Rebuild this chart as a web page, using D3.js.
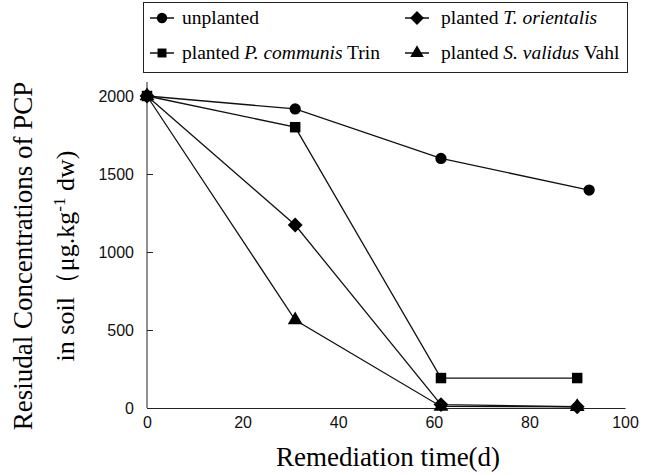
<!DOCTYPE html>
<html>
<head>
<meta charset="utf-8">
<script src="https://cdn.jsdelivr.net/npm/d3@7"></script>
<style>
  body { margin: 0; background: #fff; }
  svg { display: block; }
  .serif { font-family: 'Liberation Serif', 'DejaVu Serif', serif; }
  .sans { font-family: 'Liberation Sans', 'DejaVu Sans', sans-serif; }
</style>
</head>
<body>
<svg id="chart"></svg>
<script>
// Data (days, ug/kg dw)
const days = [0, 31, 61.5, 90];
const daysUnplanted = [0, 31, 61.5, 92.5];
const unplanted = [2000, 1917, 1600, 1397];
const communis = [2000, 1800, 192, 192];
const orientalis = [2000, 1173, 22, 8];
const validus = [2000, 564, 10, 8];

const xTicks = [0, 20, 40, 60, 80, 100];
const yTicks = [0, 500, 1000, 1500, 2000];

const width = 646;
const height = 475;
const margin = { top: 82, right: 21, bottom: 67, left: 147 };

const svg = d3.select('#chart')
    .attr('width', width)
    .attr('height', height);

// Scales
const xScale = d3.scaleLinear()
    .domain([0, 100])
    .range([margin.left, width - margin.right]);

const yScale = d3.scaleLinear()
    .domain([0, 2000])
    .range([height - margin.bottom, 96]);

// Rotated square, like the diamond in the original
const diamond = {
    draw(context, size) {
        const r = Math.sqrt(size / 2);
        context.moveTo(0, -r);
        context.lineTo(r, 0);
        context.lineTo(0, r);
        context.lineTo(-r, 0);
        context.closePath();
    }
};

// x axis: line only, no tick marks
const xAxis = svg.append('g')
    .attr('transform', `translate(0, ${yScale(0)})`)
    .call(d3.axisBottom(xScale).tickValues(xTicks).tickSize(0).tickPadding(9));
xAxis.select('.domain').attr('stroke', '#222');
xAxis.selectAll('text')
    .attr('class', 'sans')
    .attr('font-size', '16px')
    .attr('fill', '#111');

// y axis: ticks point into the plot
const yAxis = svg.append('g')
    .attr('transform', `translate(${margin.left}, 0)`)
    .call(d3.axisLeft(yScale).tickValues(yTicks).tickFormat(d3.format('d'))
        .tickSizeInner(-6).tickSizeOuter(0).tickPadding(13));
yAxis.select('.domain').remove();
yAxis.selectAll('.tick line').attr('stroke', '#222');
yAxis.selectAll('text')
    .attr('class', 'sans')
    .attr('font-size', '16px')
    .attr('fill', '#111');
// y axis line runs a bit above the top tick
svg.append('line')
    .attr('x1', margin.left).attr('x2', margin.left)
    .attr('y1', margin.top).attr('y2', yScale(0))
    .attr('stroke', '#222');

// Axis titles
svg.append('text')
    .attr('class', 'serif')
    .attr('x', 388)
    .attr('y', 466)
    .attr('text-anchor', 'middle')
    .attr('font-size', '27px')
    .text('Remediation time(d)');

const yTitle = svg.append('text')
    .attr('class', 'serif')
    .attr('transform', 'translate(32, 256) rotate(-90)')
    .attr('text-anchor', 'middle')
    .attr('font-size', '27px');
yTitle.append('tspan')
    .attr('x', 0).attr('y', 0)
    .text('Resiudal Concentrations of PCP');
yTitle.append('tspan')
    .attr('x', 0).attr('y', 42)
    .attr('font-size', '26px')
    .text('in soil（μg.kg');
yTitle.append('tspan')
    .attr('dy', -9)
    .attr('font-size', '17px')
    .text('-1');
yTitle.append('tspan')
    .attr('dy', 9)
    .attr('font-size', '26px')
    .text(' dw)');

// Series
const series = [
    { name: 'unplanted', x: daysUnplanted, y: unplanted, shape: d3.symbolCircle, size: 100 },
    { name: 'communis', x: days, y: communis, shape: d3.symbolSquare, size: 110 },
    { name: 'orientalis', x: days, y: orientalis, shape: diamond, size: 110 },
    { name: 'validus', x: days, y: validus, shape: d3.symbolTriangle, size: 95 }
];

const line = d3.line()
    .x(d => xScale(d[0]))
    .y(d => yScale(d[1]));

series.forEach(s => {
    const pts = s.x.map((x, i) => [x, s.y[i]]);
    svg.append('path')
        .datum(pts)
        .attr('fill', 'none')
        .attr('stroke', '#111')
        .attr('stroke-width', 1.3)
        .attr('d', line);
    svg.selectAll(null)
        .data(pts)
        .enter()
        .append('path')
        .attr('transform', d => `translate(${xScale(d[0])}, ${yScale(d[1])})`)
        .attr('d', d3.symbol().type(s.shape).size(s.size))
        .attr('fill', '#000');
});

// Legend
const legend = svg.append('g');
legend.append('rect')
    .attr('x', 143.5).attr('y', 2.5)
    .attr('width', 484).attr('height', 70)
    .attr('fill', '#fff')
    .attr('stroke', '#222');

const legendItems = [
    { x: 150, tx: 182, y: 18, shape: d3.symbolCircle, size: 85, parts: [['unplanted', 'normal']] },
    { x: 405, tx: 441, y: 18, shape: diamond, size: 95, parts: [['planted ', 'normal'], ['T. orientalis', 'italic']] },
    { x: 150, tx: 182, y: 53, shape: d3.symbolSquare, size: 80, parts: [['planted ', 'normal'], ['P. communis', 'italic'], [' Trin', 'normal']] },
    { x: 405, tx: 441, y: 53, shape: d3.symbolTriangle, size: 80, parts: [['planted ', 'normal'], ['S. validus', 'italic'], [' Vahl', 'normal']] }
];

legendItems.forEach(item => {
    legend.append('line')
        .attr('x1', item.x).attr('x2', item.x + 24)
        .attr('y1', item.y).attr('y2', item.y)
        .attr('stroke', '#111')
        .attr('stroke-width', 1.5);
    legend.append('path')
        .attr('transform', `translate(${item.x + 12}, ${item.y})`)
        .attr('d', d3.symbol().type(item.shape).size(item.size))
        .attr('fill', '#000');
    const t = legend.append('text')
        .attr('class', 'serif')
        .attr('x', item.tx)
        .attr('y', item.y + 6)
        .attr('font-size', '19.5px');
    item.parts.forEach(p => {
        t.append('tspan').attr('font-style', p[1]).text(p[0]);
    });
});
</script>
</body>
</html>
